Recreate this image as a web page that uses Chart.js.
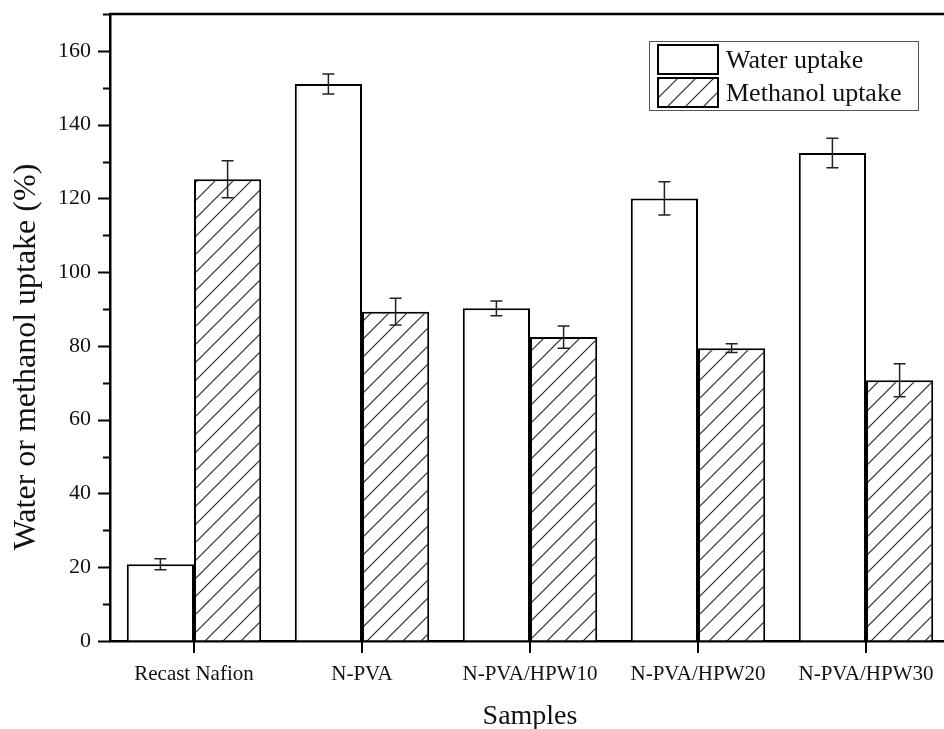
<!DOCTYPE html>
<html>
<head>
<meta charset="utf-8">
<title>Water and methanol uptake</title>
<script src="https://cdn.jsdelivr.net/npm/chart.js@4/dist/chart.umd.min.js"></script>
<style>
  html, body { margin: 0; padding: 0; background: #fff; overflow: hidden; }
  #wrap { width: 944px; height: 729px; overflow: hidden; }
  canvas { display: block; }
</style>
</head>
<body>
<div id="wrap"><canvas id="c" width="960" height="729"></canvas></div>
<script>
// Sample names along the x axis
const categories = ['Recast Nafion', 'N-PVA', 'N-PVA/HPW10', 'N-PVA/HPW20', 'N-PVA/HPW30'];
// Uptake values (%) and their standard deviations
const waterUptake    = [20.8, 151.0, 90.2, 120.0, 132.3];
const waterError     = [1.5, 2.7, 2.0, 4.5, 4.0];
const methanolUptake = [125.2, 89.3, 82.4, 79.4, 70.7];
const methanolError  = [5.0, 3.6, 3.0, 1.2, 4.5];
// Y axis range and tick steps
const yMin = 0, yMax = 170, yMajor = 20, yMinor = 10;

const FONT = "'Liberation Serif', 'Times New Roman', serif";
const canvas = document.getElementById('c');
const ctx = canvas.getContext('2d');

// Diagonal "/" hatch used for the methanol bars
function makeHatch() {
  const s = 18;
  const c = document.createElement('canvas');
  c.width = s; c.height = s;
  const g = c.getContext('2d');
  g.fillStyle = '#fff';
  g.fillRect(0, 0, s, s);
  g.strokeStyle = '#2a2a2a';
  g.lineWidth = 1.2;
  g.beginPath();
  g.moveTo(0, s); g.lineTo(s, 0);
  g.moveTo(-2, 2); g.lineTo(2, -2);
  g.moveTo(s - 2, s + 2); g.lineTo(s + 2, s - 2);
  g.stroke();
  return ctx.createPattern(c, 'repeat');
}
const hatch = makeHatch();

// Error bars, frame, minor/major ticks, titles and the boxed legend
const decorations = {
  id: 'decorations',
  afterDatasetsDraw(chart) {
    const g = chart.ctx;
    const ys = chart.scales.y;
    g.save();
    g.strokeStyle = '#222';
    g.lineWidth = 1.5;
    chart.data.datasets.forEach((ds, i) => {
      const meta = chart.getDatasetMeta(i);
      meta.data.forEach((bar, j) => {
        const v = ds.data[j], e = ds.errors[j];
        const top = ys.getPixelForValue(v + e);
        const bot = ys.getPixelForValue(v - e);
        const x = bar.x, cap = 6;
        g.beginPath();
        g.moveTo(x, top); g.lineTo(x, bot);
        g.moveTo(x - cap, top); g.lineTo(x + cap, top);
        g.moveTo(x - cap, bot); g.lineTo(x + cap, bot);
        g.stroke();
      });
    });
    g.restore();
  },
  afterDraw(chart) {
    const g = chart.ctx;
    const a = chart.chartArea;
    const ys = chart.scales.y, xs = chart.scales.x;
    g.save();
    g.strokeStyle = '#000';
    g.lineCap = 'butt';

    // frame: top and right edges
    g.lineWidth = 2.5;
    g.beginPath();
    g.moveTo(a.left - 1, a.top); g.lineTo(a.right, a.top); g.lineTo(a.right, a.bottom);
    g.stroke();

    // y ticks pointing outward
    g.lineWidth = 2;
    for (let v = yMin; v <= yMax; v += yMinor) {
      const y = Math.round(ys.getPixelForValue(v)) + 0.5;
      const len = (v % yMajor === 0) ? 12 : 7;
      g.beginPath(); g.moveTo(a.left - len, y); g.lineTo(a.left, y); g.stroke();
    }
    // x ticks under each sample
    categories.forEach((_, i) => {
      const x = xs.getPixelForValue(i);
      g.beginPath(); g.moveTo(x, a.bottom); g.lineTo(x, a.bottom + 12); g.stroke();
    });

    // axis titles
    g.fillStyle = '#111';
    g.textAlign = 'center';
    g.textBaseline = 'alphabetic';
    g.font = '28px ' + FONT;
    g.fillText('Samples', (a.left + a.right) / 2, 724);
    g.save();
    g.translate(35, 357);
    g.rotate(-Math.PI / 2);
    g.font = '32px ' + FONT;
    g.fillText('Water or methanol uptake (%)', 0, 0);
    g.restore();

    // legend
    const lx = 649, ly = 41, lw = 269, lh = 69;
    g.lineWidth = 1;
    g.strokeStyle = '#555';
    g.strokeRect(lx + 0.5, ly + 0.5, lw, lh);
    g.textAlign = 'left';
    g.font = '26px ' + FONT;
    chart.data.datasets.forEach((ds, i) => {
      const sy = ly + 4 + i * 33;
      g.fillStyle = ds.backgroundColor;
      g.fillRect(658, sy, 60, 29);
      g.lineWidth = 2;
      g.strokeStyle = '#000';
      g.strokeRect(658, sy, 60, 29);
      g.fillStyle = '#111';
      g.fillText(ds.label, 726, sy + 23);
    });
    g.restore();
  }
};

new Chart(ctx, {
  type: 'bar',
  data: {
    labels: categories,
    datasets: [
      {
        label: 'Water uptake',
        data: waterUptake,
        errors: waterError,
        backgroundColor: '#ffffff',
        borderColor: '#000',
        borderWidth: 2
      },
      {
        label: 'Methanol uptake',
        data: methanolUptake,
        errors: methanolError,
        backgroundColor: hatch,
        borderColor: '#000',
        borderWidth: 2
      }
    ]
  },
  options: {
    responsive: false,
    animation: false,
    events: [],
    layout: { padding: { top: 14, right: 10, left: 0, bottom: 0 } },
    datasets: { bar: { categoryPercentage: 0.8, barPercentage: 1.0 } },
    plugins: { legend: { display: false }, tooltip: { enabled: false } },
    scales: {
      x: {
        offset: true,
        grid: { display: true, drawOnChartArea: false, drawTicks: false },
        border: { display: true, color: '#000', width: 2.5 },
        ticks: { color: '#111', font: { family: FONT, size: 21 }, padding: 21, maxRotation: 0, autoSkip: false },
        afterFit(scale) {
          scale.height = 88;
          scale.paddingLeft = 0; scale.paddingRight = 0;
        }
      },
      y: {
        min: yMin,
        max: yMax,
        grid: { display: true, drawOnChartArea: false, drawTicks: false },
        border: { display: true, color: '#000', width: 2.5 },
        ticks: {
          stepSize: yMajor,
          color: '#111',
          font: { family: FONT, size: 22 },
          padding: 19,
          callback: (v) => (v % yMajor === 0 ? v : '')
        },
        afterFit(scale) {
          scale.width = 110;
          scale.paddingTop = 0; scale.paddingBottom = 0;
        }
      }
    }
  },
  plugins: [decorations]
});
</script>
</body>
</html>
